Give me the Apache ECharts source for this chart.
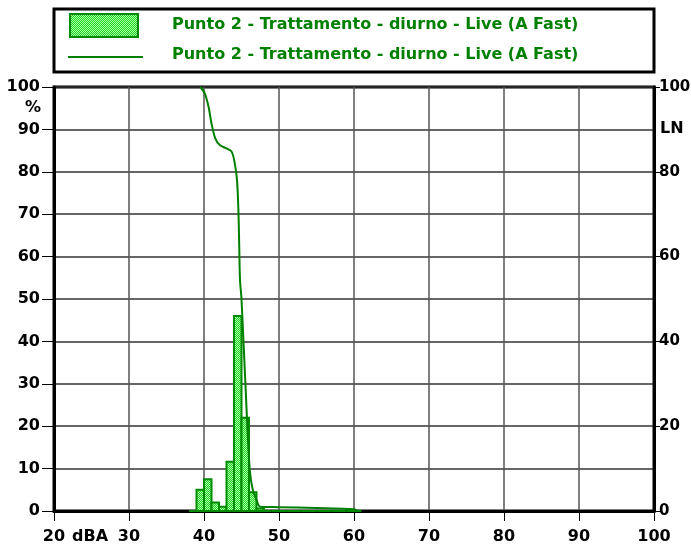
<!DOCTYPE html>
<html>
<head>
<meta charset="utf-8">
<script src="https://cdn.jsdelivr.net/npm/echarts@6/dist/echarts.min.js"></script>
<style>html,body{margin:0;padding:0;background:#fff}#c{width:691px;height:548px}</style>
</head>
<body>
<div id="c"></div>
<script>
// ---- data ----
var seriesName = 'Punto 2 - Trattamento - diurno - Live (A Fast)';
var binStart = [38, 39, 40, 41, 42, 43, 44, 45, 46, 47, 48, 49, 50, 51, 52, 53, 54, 55, 56, 57, 58, 59, 60];
var binPct   = [0, 5, 7.5, 2, 1, 11.6, 46, 22, 4.4, 0.6, 0, 0, 0, 0, 0, 0, 0, 0, 0, 0, 0, 0, 0];
var lnX = [39.5, 40.1, 40.6, 41.0, 41.5, 42.1, 43.0, 43.7, 44.1, 44.4, 44.6, 44.7, 44.8, 45.0, 45.7, 46.1, 46.5, 47.0, 47.5, 50, 55, 60, 60.5];
var lnY = [100, 98.5, 95.4, 91.4, 87.9, 86.3, 85.5, 84.7, 82.0, 78.1, 70.2, 62.3, 54.5, 50, 23, 9.7, 5, 2.6, 1.0, 0.9, 0.7, 0.4, 0];
var xTicks = [20, 30, 40, 50, 60, 70, 80, 90, 100];

// dotted fill pattern
var pc = document.createElement('canvas');
pc.width = 2; pc.height = 2;
var pctx = pc.getContext('2d');
pctx.fillStyle = '#22d822'; pctx.fillRect(0, 0, 2, 2);
pctx.fillStyle = '#a6ffa6'; pctx.fillRect(0, 0, 1, 1); pctx.fillRect(1, 1, 1, 1);

var font = '"DejaVu Sans", sans-serif';
var chart = echarts.init(document.getElementById('c'), null, {renderer: 'canvas'});
var option = {
  animation: false,
  backgroundColor: '#fff',
  grid: {left: 54, right: 37, top: 87, bottom: 37, containLabel: false, outerBoundsMode: 'none',
    show: true, borderColor: '#000', borderWidth: 3, backgroundColor: 'transparent'},
  xAxis: {
    type: 'value', min: 20, max: 100, interval: 10,
    axisLine: {show: true, lineStyle: {color: '#000', width: 3}},
    axisTick: {show: true, length: 10, lineStyle: {color: '#000', width: 1}},
    axisLabel: {color: '#000', fontFamily: font, fontWeight: 'bold', fontSize: 16, margin: 18,
      formatter: function (v) { return xTicks.indexOf(v) >= 0 ? String(v) : ''; }},
    splitLine: {show: true, lineStyle: {color: '#555', width: 1.5}}
  },
  yAxis: [{
    type: 'value', min: 0, max: 100, interval: 10, position: 'left',
    axisLine: {show: true, lineStyle: {color: '#000', width: 3}},
    axisTick: {show: true, length: 12, lineStyle: {color: '#000', width: 1}},
    axisLabel: {color: '#000', fontFamily: font, fontWeight: 'bold', fontSize: 16, margin: 14},
    splitLine: {show: true, lineStyle: {color: '#333', width: 1.5}}
  }, {
    type: 'value', min: 0, max: 100, interval: 20, position: 'right',
    axisLine: {show: true, lineStyle: {color: '#000', width: 3}},
    axisTick: {show: true, length: 6, lineStyle: {color: '#000', width: 1}},
    axisLabel: {color: '#000', fontFamily: font, fontWeight: 'bold', fontSize: 15, margin: 5},
    splitLine: {show: false}
  }],
  series: [{
    type: 'custom', name: seriesName, xAxisIndex: 0, yAxisIndex: 0,
    data: binStart.map(function (b, i) { return [b, binPct[i]]; }),
    renderItem: function (params, api) {
      var x0 = api.value(0), v = api.value(1);
      var p0 = api.coord([x0, v]);
      var p1 = api.coord([x0 + 1, 0]);
      return {
        type: 'rect',
        shape: {x: p0[0], y: p0[1], width: p1[0] - p0[0], height: p1[1] - p0[1]},
        style: {fill: {image: pc, repeat: 'repeat'}, stroke: '#008a00', lineWidth: 2}
      };
    },
    z: 3
  }, {
    type: 'line', name: seriesName, xAxisIndex: 0, yAxisIndex: 0,
    data: lnX.map(function (x, i) { return [x, lnY[i]]; }),
    smooth: 0.3, showSymbol: false, symbol: 'none',
    lineStyle: {color: '#008000', width: 2},
    z: 4
  }],
  graphic: [
    {type: 'rect', shape: {x: 54, y: 9, width: 600, height: 63}, style: {fill: '#fff', stroke: '#000', lineWidth: 3}},
    {type: 'rect', shape: {x: 70, y: 14, width: 68, height: 23}, style: {fill: {image: pc, repeat: 'repeat'}, stroke: '#008a00', lineWidth: 2}},
    {type: 'line', shape: {x1: 68, y1: 57, x2: 143, y2: 57}, style: {stroke: '#008000', lineWidth: 2}},
    {type: 'text', x: 172, y: 25, style: {text: seriesName, fill: '#008000', font: 'bold 16px ' + font, textVerticalAlign: 'middle'}},
    {type: 'text', x: 172, y: 55, style: {text: seriesName, fill: '#008000', font: 'bold 16px ' + font, textVerticalAlign: 'middle'}},
    {type: 'text', x: 33, y: 108, style: {text: '%', fill: '#000', font: 'bold 16px ' + font, textAlign: 'center', textVerticalAlign: 'middle'}},
    {type: 'text', x: 660, y: 129, style: {text: 'LN', fill: '#000', font: 'bold 16px ' + font, textVerticalAlign: 'middle'}},
    {type: 'text', x: 90, y: 537, style: {text: 'dBA', fill: '#000', font: 'bold 16px ' + font, textAlign: 'center', textVerticalAlign: 'middle'}}
  ]
};
chart.setOption(option);
</script>
</body>
</html>
